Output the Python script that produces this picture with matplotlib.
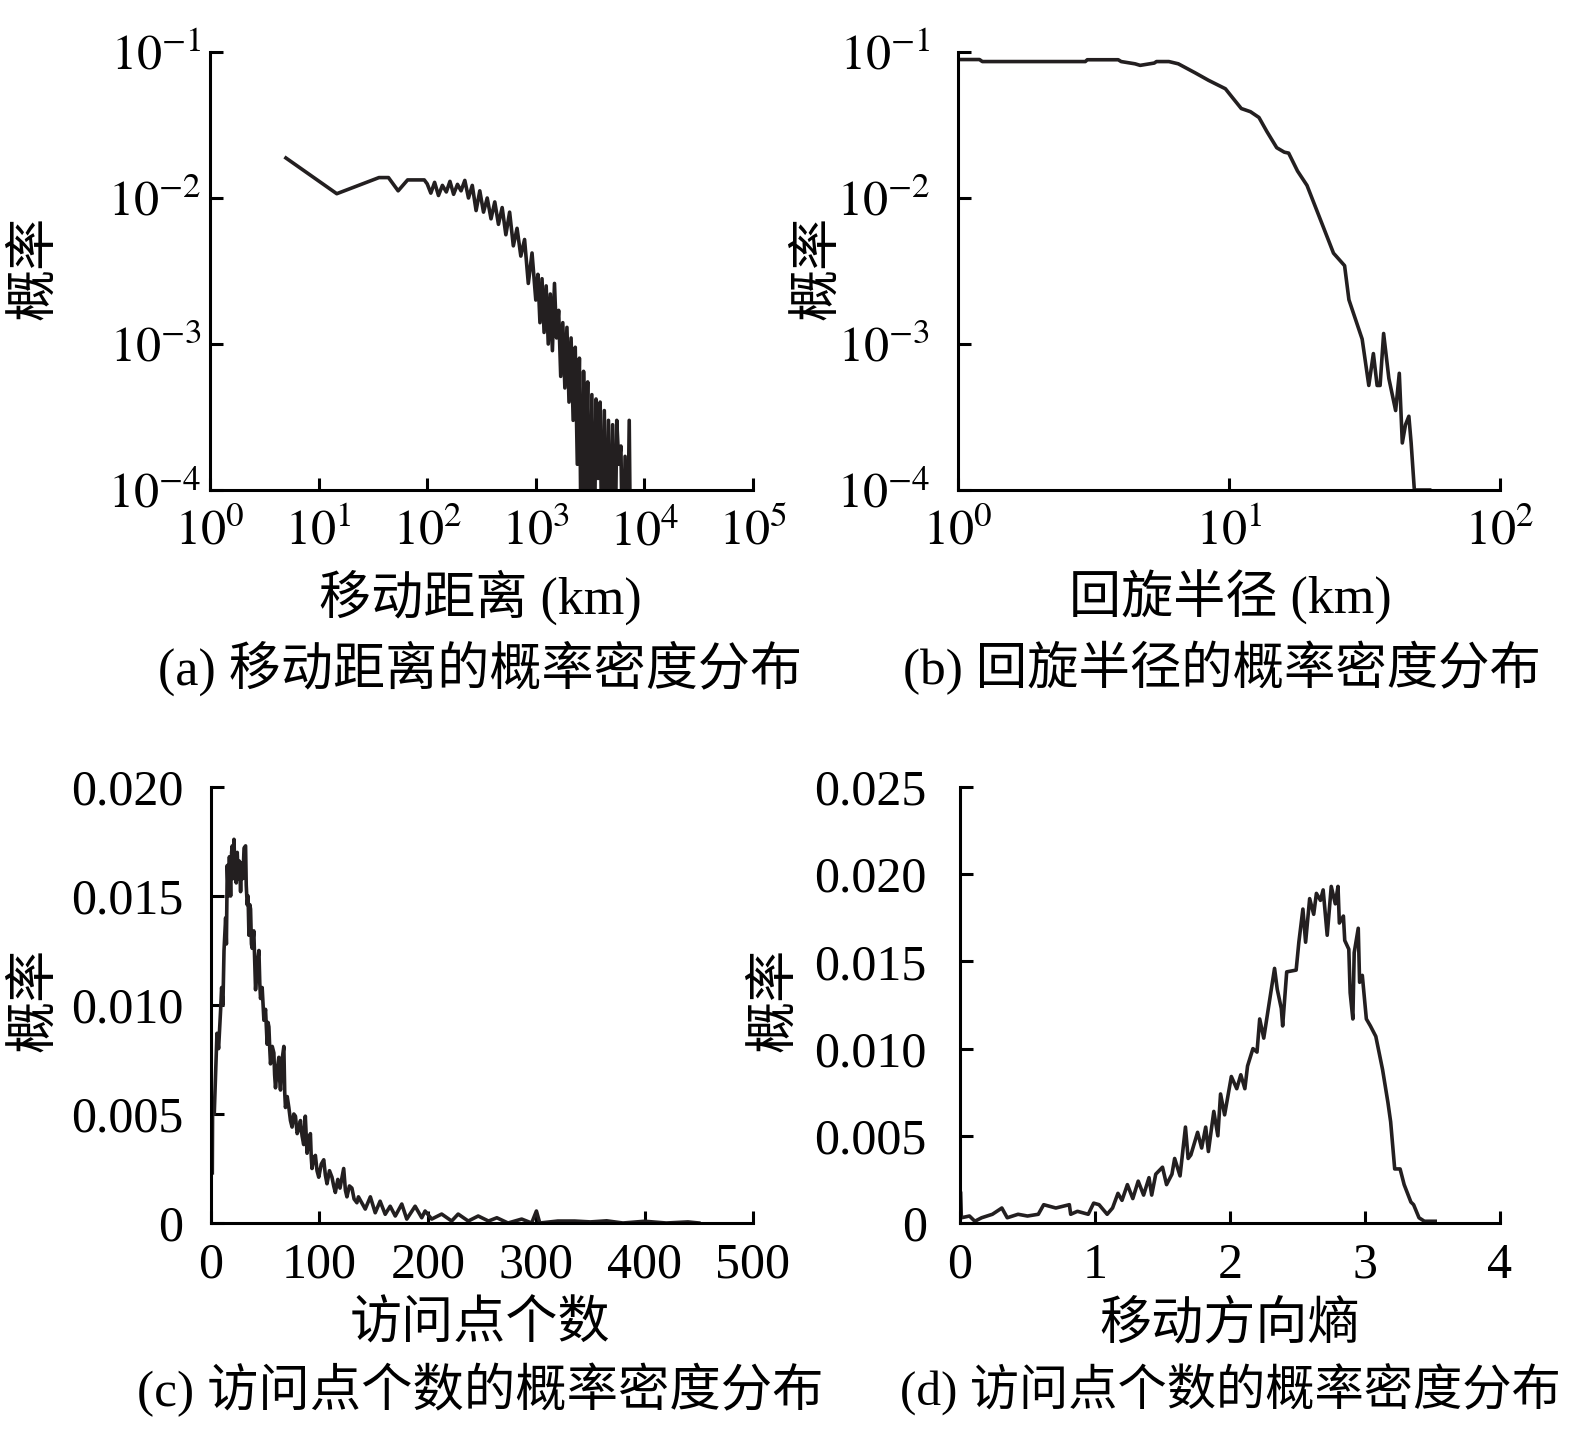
import matplotlib
matplotlib.use("Agg")
import matplotlib.pyplot as plt
from matplotlib.ticker import NullLocator, FixedLocator

plt.rcParams['font.family'] = ['Liberation Serif', 'Noto Sans CJK SC']
plt.rcParams['mathtext.fontset'] = 'stix'
plt.rcParams['axes.unicode_minus'] = True

# (a) travel distance, km  ->  probability
dist_km = [5.0, 14.7, 36, 44, 54, 66, 94,
           100, 108, 117, 127, 138, 150, 162, 175, 190, 205, 222, 240, 260, 282,
           305, 330, 357, 387, 419, 453, 490, 530, 574, 621, 672, 728, 788, 853,
           923, 1000,
           1045, 1092, 1141, 1192, 1246, 1302, 1361, 1422, 1486, 1553, 1623, 1696,
           1772, 1852, 1935, 2022, 2113, 2208, 2308, 2411, 2520, 2633, 2752, 2876,
           3005, 3140, 3282, 3429, 3584, 3745, 3913, 4090, 4274, 4466, 4667, 4877,
           5097, 5326, 5566, 5816, 6078, 6352, 6638, 6936, 7249, 7500]
dist_p = [0.0188, 0.0107, 0.0138, 0.0138, 0.0112, 0.0133, 0.0133,
          0.0125, 0.0108, 0.0128, 0.0104, 0.0122, 0.0110, 0.0130, 0.0106, 0.0124,
          0.0112, 0.0132, 0.0100, 0.0122, 0.0082, 0.0112, 0.0080, 0.0100, 0.0072,
          0.0094, 0.0066, 0.0086, 0.0056, 0.0080, 0.0047, 0.0062, 0.0040, 0.0052,
          0.0026, 0.0042, 0.0020,
          0.0030, 0.0014, 0.0028, 0.0012, 0.0025, 0.0010, 0.0022, 0.0009, 0.0026,
          0.0011, 0.0017, 0.0006, 0.0014, 0.0005, 0.0013, 0.0004, 0.0011, 0.0003,
          0.00095, 0.00015, 0.0008, 2e-5, 0.00065, 0.0001, 0.00055, 2e-5, 0.00045,
          2e-5, 0.00042, 0.00012, 0.0004, 2e-5, 0.00035, 2e-5, 0.0003, 2e-5,
          0.00028, 2e-5, 0.0003, 0.00015, 0.0002, 2e-5, 0.00017, 2e-5, 0.0003, 2e-5]

# (b) radius of gyration, km  ->  probability
gyr_km = [1.0, 1.2, 1.23, 2.95, 3.0, 3.9, 4.0, 4.5, 4.7, 5.3, 5.4, 6.0, 6.5, 7.5,
          8.4, 9.7, 10.3, 11.1, 12.0, 12.9, 13.8, 15.0, 16.0, 16.6, 17.9, 19.4,
          22.1, 24.3, 26.7, 27.7, 31.0, 32.8, 34.1, 35.2, 36.1, 37.2, 38.9, 41.2,
          42.5, 43.6, 44.8, 46.1, 47.0, 48.3, 55.0]
gyr_p = [0.0888, 0.0888, 0.086, 0.086, 0.0885, 0.0885, 0.086, 0.083, 0.081,
         0.084, 0.086, 0.086, 0.083, 0.072, 0.064, 0.056, 0.0487, 0.041, 0.039,
         0.0356, 0.0285, 0.0221, 0.0206, 0.0203, 0.0153, 0.0122, 0.00658,
         0.00419, 0.00344, 0.00201, 0.00108, 0.00052, 0.00086, 0.00052, 0.00052,
         0.00118, 0.00058, 0.00035, 0.00063, 0.00021, 0.00028, 0.00032, 0.00021,
         1e-4, 1e-4]

# (c) number of visited points  ->  probability
visit_n = [1.2, 1.5, 3, 4.3, 5.5, 7, 8.9, 9.8, 11, 12, 13.5, 14.2, 15.0, 16, 17,
           18.1, 19, 19.6, 20.5, 21.2, 22.1, 23.3, 24.2, 25.1, 26.2, 27.3, 28.3,
           29.4, 30.5, 31.9, 32.5, 33.4, 34.2, 35.0, 35.8, 36.5, 37.3, 38.0, 39.5,
           41.1, 42.5, 44.2, 45.0, 45.7, 47.2, 48.8, 50.3, 51.8, 52.6, 53.4, 54.2,
           54.9, 56.5, 58, 58.7, 59.5, 61, 62.6, 63.3, 64.1, 65.6, 67.2, 68, 68.7,
           70.3, 71.8, 73.3, 74.8, 76.4, 77.9, 79.5, 81, 82.5, 84, 85.5, 87, 88.6,
           90.1, 91.7, 92.5, 93.2, 94.8, 96.3, 97.8, 99.4, 101.7, 104, 105.5, 107,
           109.3, 111.6, 113.2, 114.7, 117, 119, 122.4, 124, 125.4, 127.7, 130,
           132, 134.6, 136, 142.3, 147, 151.5, 156, 160.7, 165.3, 170, 176,
           180.6, 188.3, 194.4, 197.5, 203.6, 212.8, 222, 228, 237.3, 246.5, 256,
           263.7, 274, 286.6, 295.8, 300.2, 303.3, 320, 335.5, 350, 365, 380, 400,
           420, 440, 450]
visit_p = [0.0023, 0.0056, 0.0050, 0.0070, 0.0087, 0.0080, 0.0098, 0.0108,
           0.0100, 0.0125, 0.0140, 0.0128, 0.0164, 0.0150, 0.0168, 0.0150,
           0.0170, 0.0173, 0.0158, 0.0176, 0.0160, 0.0156, 0.0170, 0.0158,
           0.0166, 0.0152, 0.0165, 0.0158, 0.0172, 0.0173, 0.0155, 0.0146,
           0.0150, 0.0132, 0.0146, 0.0144, 0.0128, 0.0126, 0.0134, 0.0107,
           0.0118, 0.0125, 0.0110, 0.0103, 0.0108, 0.0093, 0.0098, 0.0082,
           0.0092, 0.0090, 0.0080, 0.0073, 0.0081, 0.0078, 0.0068, 0.0062,
           0.0070, 0.0076, 0.0066, 0.0061, 0.0075, 0.0081, 0.0060, 0.0053,
           0.0058, 0.0053, 0.0047, 0.0044, 0.0050, 0.0049, 0.0041, 0.0043,
           0.0047, 0.0040, 0.0036, 0.0049, 0.0032, 0.0038, 0.0041, 0.0030,
           0.0025, 0.0030, 0.0031, 0.0024, 0.0021, 0.0027, 0.0029, 0.0022,
           0.0018, 0.0024, 0.0021, 0.0017, 0.0014, 0.0020, 0.0016, 0.0025,
           0.0015, 0.0012, 0.0017, 0.0016, 0.0011, 0.00093, 0.0012, 0.00064,
           0.0012, 0.00047, 0.0010, 0.0004, 0.00077, 0.00032, 0.00087, 0.00018,
           0.00077, 0.00024, 0.00055, 0.00018, 0.00041, 0.00009, 0.00041,
           0.00009, 0.00032, 0.00009, 0.00024, 0.0, 0.00018, 0.0, 0.00055, 0.0,
           0.00009, 0.00009, 0.00005, 0.0001, 0.0, 0.00008, 0.0, 0.00005, 0.0]

# (d) movement direction entropy  ->  probability
entropy = [0.005, 0.01, 0.07, 0.11, 0.16, 0.24, 0.31, 0.35, 0.43, 0.50, 0.58, 0.62,
           0.71, 0.81, 0.82, 0.87, 0.95, 0.99, 1.03, 1.09, 1.13, 1.17, 1.20, 1.24,
           1.28, 1.32, 1.36, 1.40, 1.42, 1.45, 1.50, 1.53, 1.57, 1.59, 1.63, 1.67,
           1.69, 1.71, 1.76, 1.79, 1.82, 1.84, 1.88, 1.91, 1.93, 1.96, 2.01, 2.05,
           2.08, 2.11, 2.13, 2.17, 2.20, 2.22, 2.25, 2.29, 2.33, 2.35, 2.38, 2.39,
           2.42, 2.49, 2.51, 2.54, 2.56, 2.59, 2.62, 2.64, 2.67, 2.69, 2.72, 2.75,
           2.78, 2.80, 2.81, 2.84, 2.85, 2.88, 2.89, 2.91, 2.92, 2.95, 2.96, 2.98,
           3.01, 3.04, 3.08, 3.13, 3.17, 3.19, 3.22, 3.26, 3.29, 3.34, 3.36, 3.40,
           3.44, 3.52]
entropy_p = [0.0017, 0.0003, 0.0004, 0.0001, 0.0003, 0.0005, 0.00086, 0.0003,
             0.0005, 0.0004, 0.0005, 0.00105, 0.00086, 0.00105, 0.0005, 0.00067,
             0.0005, 0.00114, 0.00105, 0.0005, 0.00086, 0.0017, 0.0013, 0.0022,
             0.0014, 0.0024, 0.0016, 0.0026, 0.0016, 0.0028, 0.0032, 0.0022,
             0.0028, 0.0037, 0.0027, 0.0055, 0.0037, 0.0039, 0.0052, 0.0043,
             0.0055, 0.0041, 0.0064, 0.0050, 0.0074, 0.0062, 0.0084, 0.0077,
             0.0085, 0.0077, 0.0090, 0.0100, 0.0098, 0.0117, 0.0106, 0.0126,
             0.0146, 0.0134, 0.0123, 0.0113, 0.0144, 0.0145, 0.0161, 0.0180,
             0.0161, 0.0186, 0.0177, 0.0189, 0.0185, 0.0191, 0.0165, 0.0193,
             0.0183, 0.0193, 0.0172, 0.0176, 0.0162, 0.0157, 0.0132, 0.0117,
             0.0155, 0.0169, 0.0138, 0.0142, 0.0117, 0.0113, 0.0107, 0.0088,
             0.0069, 0.0058, 0.0031, 0.0031, 0.0022, 0.0012, 0.00105, 0.0003,
             0.0001, 0.0001]

log_x_a = [0, 1, 2, 3, 4, 5]
log_x_b = [0, 1, 2]
log_y = [-4, -3, -2, -1]
ticks_c_x = [0, 100, 200, 300, 400, 500]
ticks_c_y = [0, 0.005, 0.010, 0.015, 0.020]
labels_c_y = ['0', '0.005', '0.010', '0.015', '0.020']
ticks_d_x = [0, 1, 2, 3, 4]
ticks_d_y = [0, 0.005, 0.010, 0.015, 0.020, 0.025]
labels_d_y = ['0', '0.005', '0.010', '0.015', '0.020', '0.025']

W, H = 1575, 1431
fig = plt.figure(figsize=(W / 100, H / 100), dpi=100)


def box(l, t, r, b):
    return [l / W, 1 - b / H, (r - l) / W, (b - t) / H]


def style(ax, ypad):
    for s in ['top', 'right']:
        ax.spines[s].set_visible(False)
    for s in ['left', 'bottom']:
        ax.spines[s].set_linewidth(2.2)
    ax.tick_params(direction='in', length=9, width=2.2, labelsize=36, pad=14)
    ax.tick_params(axis='y', pad=ypad)
    ax.xaxis.set_minor_locator(NullLocator())
    ax.yaxis.set_minor_locator(NullLocator())


lw = 2.6
black = '#231f20'

ax1 = fig.add_axes(box(210, 52, 753, 490))
ax1.plot(dist_km, dist_p, color=black, lw=lw)
ax1.set_xscale('log')
ax1.set_yscale('log')
ax1.set_xlim(1, 1e5)
ax1.set_ylim(1e-4, 1e-1)
style(ax1, 6)
ax1.xaxis.set_major_locator(FixedLocator([10.0 ** e for e in log_x_a]))
ax1.set_xticklabels([f'$10^{{{e}}}$' for e in log_x_a])
ax1.yaxis.set_major_locator(FixedLocator([10.0 ** e for e in log_y]))
ax1.set_yticklabels([f'$10^{{{e}}}$' for e in log_y])

ax2 = fig.add_axes(box(958, 52, 1500, 490))
ax2.plot(gyr_km, gyr_p, color=black, lw=lw)
ax2.set_xscale('log')
ax2.set_yscale('log')
ax2.set_xlim(1, 1e2)
ax2.set_ylim(1e-4, 1e-1)
style(ax2, 20)
ax2.xaxis.set_major_locator(FixedLocator([10.0 ** e for e in log_x_b]))
ax2.set_xticklabels([f'$10^{{{e}}}$' for e in log_x_b])
ax2.yaxis.set_major_locator(FixedLocator([10.0 ** e for e in log_y]))
ax2.set_yticklabels([f'$10^{{{e}}}$' for e in log_y])

ax3 = fig.add_axes(box(211, 787, 753, 1223))
ax3.plot(visit_n, visit_p, color=black, lw=lw)
ax3.set_xlim(0, 500)
ax3.set_ylim(0, 0.020)
style(ax3, 20)
ax3.set_xticks(ticks_c_x)
ax3.set_xticklabels([str(v) for v in ticks_c_x])
ax3.set_yticks(ticks_c_y)
ax3.set_yticklabels(labels_c_y)

ax4 = fig.add_axes(box(960, 787, 1500, 1223))
ax4.plot(entropy, entropy_p, color=black, lw=lw)
ax4.set_xlim(0, 4)
ax4.set_ylim(0, 0.025)
style(ax4, 24)
ax4.set_xticks(ticks_d_x)
ax4.set_xticklabels([str(v) for v in ticks_d_x])
ax4.set_yticks(ticks_d_y)
ax4.set_yticklabels(labels_d_y)

xlabels = ['移动距离 (km)', '回旋半径 (km)', '访问点个数', '移动方向熵']
captions = ['(a) 移动距离的概率密度分布', '(b) 回旋半径的概率密度分布',
            '(c) 访问点个数的概率密度分布', '(d) 访问点个数的概率密度分布']
xlabel_pos = [(480, 597), (1230, 597), (480, 1325), (1230, 1325)]
caption_pos = [(480, 668), (1222, 668), (480, 1390), (1230, 1390)]
caption_size = [37.5, 37, 37, 35.5]
ylabel_pos = [(35, 268), (818, 268), (35, 1000), (775, 1000)]

for (x, y), t in zip(xlabel_pos, xlabels):
    fig.text(x / W, 1 - y / H, t, ha='center', va='center', fontsize=37.5)
for (x, y), t, fs in zip(caption_pos, captions, caption_size):
    fig.text(x / W, 1 - y / H, t, ha='center', va='center', fontsize=fs)
for (x, y) in ylabel_pos:
    fig.text(x / W, 1 - y / H, '概率', ha='center', va='center', fontsize=37.5,
             rotation=90)

fig.savefig('out.png', dpi=100, facecolor='white')
